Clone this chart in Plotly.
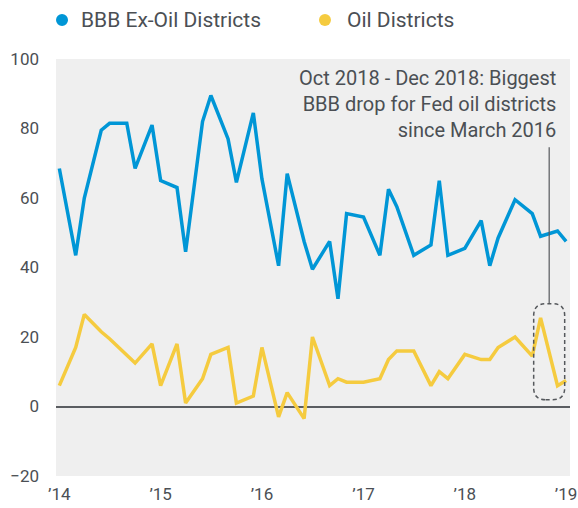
import plotly.graph_objects as go

# ---- data ----
dates = ["2014-01-01", "2014-03-01", "2014-04-01", "2014-06-01", "2014-07-01", "2014-09-01", "2014-10-01", "2014-12-01",
         "2015-01-01", "2015-03-01", "2015-04-01", "2015-06-01", "2015-07-01", "2015-09-01", "2015-10-01", "2015-12-01",
         "2016-01-01", "2016-03-01", "2016-04-01", "2016-06-01", "2016-07-01", "2016-09-01", "2016-10-01", "2016-11-01",
         "2017-01-01", "2017-03-01", "2017-04-01", "2017-05-01", "2017-07-01", "2017-09-01", "2017-10-01", "2017-11-01",
         "2018-01-01", "2018-03-01", "2018-04-01", "2018-05-01", "2018-07-01", "2018-09-01", "2018-10-01", "2018-12-01",
         "2019-01-01"]

bbb_ex_oil = [68.5, 43.5, 60, 79.5, 81.5, 81.5, 68.5, 81,
              65, 63, 44.5, 82, 89.5, 77, 64.5, 84.5,
              65.5, 40.5, 67, 47.5, 39.5, 47.5, 31, 55.5,
              54.5, 43.5, 62.5, 57.5, 43.5, 46.5, 65, 43.5,
              45.5, 53.5, 40.5, 48.5, 59.5, 55.5, 49, 50.5,
              47.5]

oil_districts = [6, 17, 26.5, 21.5, 19.5, 15, 12.5, 18,
                 6, 18, 1, 8, 15, 17, 1, 3,
                 17, -3, 4, -3.5, 20, 6, 8, 7,
                 7, 8, 13.5, 16, 16, 6, 10, 8,
                 15, 13.5, 13.5, 17, 20, 14.5, 25.5, 6,
                 7.5]

series_names = ["BBB Ex-Oil Districts", "Oil Districts"]
tick_dates = ["2014-01-01", "2015-01-01", "2016-01-01", "2017-01-01", "2018-01-01", "2019-01-01"]
tick_text = ["\u201914", "\u201915", "\u201916", "\u201917", "\u201918", "\u201919"]
y_ticks = [-20, 0, 20, 40, 60, 80, 100]

highlight_start = "2018-10-01"
highlight_end = "2018-12-01"
highlight_mid = "2018-11-01"
note_text = "Oct 2018 - Dec 2018: Biggest<br>BBB drop for Fed oil districts<br>since March 2016"

# ---- style ----
BLUE = "#0096d6"
YELLOW = "#f5cb3f"
TEXT = "#4b4f54"
FONT = "Roboto, Arial, sans-serif"

fig = go.Figure()
fig.add_trace(go.Scatter(x=dates, y=bbb_ex_oil, mode="lines", name=series_names[0],
                         line=dict(color=BLUE, width=3.5), showlegend=False))
fig.add_trace(go.Scatter(x=dates, y=oil_districts, mode="lines", name=series_names[1],
                         line=dict(color=YELLOW, width=3.5), showlegend=False))

# highlight box around the Oct-Dec 2018 oil-district drop
i0 = dates.index(highlight_start)
i1 = dates.index(highlight_end)
window = oil_districts[i0:i1 + 1]
y_center = (max(window) + min(window)) / 2
w, h, r = 15.5, 48, 12
box_path = (f"M {-w + r},{-h} L {w - r},{-h} Q {w},{-h} {w},{-h + r} "
            f"L {w},{h - r} Q {w},{h} {w - r},{h} L {-w + r},{h} Q {-w},{h} {-w},{h - r} "
            f"L {-w},{-h + r} Q {-w},{-h} {-w + r},{-h} Z")
fig.add_shape(type="path", xref="x", yref="y", xsizemode="pixel", ysizemode="pixel",
              xanchor=highlight_mid, yanchor=y_center, path=box_path,
              line=dict(color="#55585c", width=1.5, dash="4px,3px"), layer="above")

# connector line from note to box
px_per_unit = 417 / 120
fig.add_shape(type="line", xref="x", yref="y", x0=highlight_mid, x1=highlight_mid,
              y0=y_center + h / px_per_unit, y1=74.6,
              line=dict(color="#55585c", width=1.2), layer="above")

fig.add_annotation(xref="paper", yref="paper", x=0.9767, y=0.892, xanchor="right", yanchor="middle",
                   align="right", text=note_text, showarrow=False,
                   font=dict(family=FONT, size=20, color=TEXT))

# manual legend
legend_items = [(series_names[0], BLUE, 0.0117, 0.0447), (series_names[1], YELLOW, 0.5233, 0.5622)]
for name, color, dot_x, text_x in legend_items:
    fig.add_shape(type="circle", xref="paper", yref="paper", xsizemode="pixel", ysizemode="pixel",
                  xanchor=dot_x, yanchor=1.0935, x0=-6, x1=6, y0=-6, y1=6,
                  fillcolor=color, line=dict(width=0))
    fig.add_annotation(xref="paper", yref="paper", x=text_x, y=1.0935, xanchor="left", yanchor="middle",
                       text=name, showarrow=False, font=dict(family=FONT, size=21, color=TEXT))

fig.update_layout(
    width=578, height=508,
    margin=dict(l=56, r=8, t=59, b=32, autoexpand=False),
    paper_bgcolor="white",
    plot_bgcolor="#efefef",
    showlegend=False,
    hovermode=False,
    font=dict(family=FONT, color=TEXT),
)
fig.update_xaxes(type="date", range=["2013-12-20", "2019-01-15"], tickvals=tick_dates, ticktext=tick_text,
                 showgrid=False, zeroline=False, showline=False, ticks="", automargin=False,
                 ticklabeloverflow="allow",
                 ticklabelstandoff=6, tickfont=dict(family=FONT, size=17, color=TEXT))
fig.update_yaxes(range=[-20, 100], tickvals=y_ticks, showgrid=False, automargin=False,
                 zeroline=True, zerolinecolor="#5a5d61", zerolinewidth=2, showline=False, ticks="",
                 ticklabelstandoff=16, tickfont=dict(family=FONT, size=17, color=TEXT))

fig.write_html("out.html", config={"displayModeBar": False},
               post_script="document.body.style.margin='0';document.body.style.overflow='hidden';")
